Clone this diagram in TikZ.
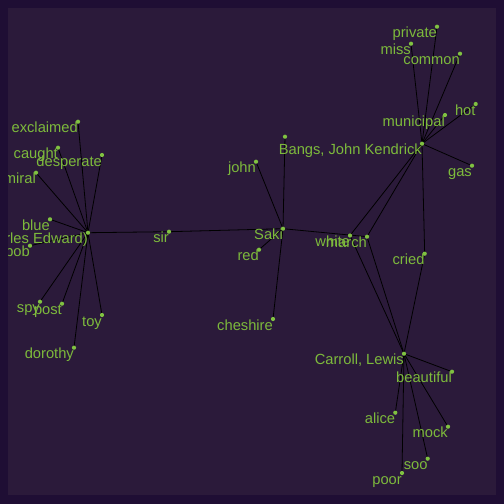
\documentclass[tikz,border=0pt]{standalone}
\usepackage{fontspec}
\setmainfont{Liberation Sans}
\usetikzlibrary{calc}
\definecolor{outerbg}{HTML}{1F0E34}
\definecolor{innerbg}{HTML}{2B1A3A}
\definecolor{dotgreen}{HTML}{80C241}
\definecolor{txtgreen}{HTML}{7DBA3C}
\pgfdeclarelayer{bglayer}
\pgfdeclarelayer{edgelayer}
\pgfsetlayers{bglayer,edgelayer,main}
\tikzset{
  dotnode/.style={circle,fill=dotgreen,inner sep=0pt,minimum size=4.2pt},
  lbl/.style={anchor=base east,inner sep=0pt,text=txtgreen,font=\fontsize{14.7}{17}\selectfont},
  edgeline/.style={draw=black,line width=0.8pt}
}
\newcommand{\gnode}[4]{%
  \node[dotnode] (#1) at (#2,#3) {};
  \node[lbl] (#1-l) at (#2,#3+11) {#4};
}
\begin{document}
\begin{tikzpicture}[x=1pt,y=-1pt]
\useasboundingbox (0,0) rectangle (504,504);
\begin{pgfonlayer}{bglayer}
  \fill[outerbg] (0,0) rectangle (504,504);
  \fill[innerbg] (8,8) rectangle (496,495);
\end{pgfonlayer}
\begin{scope}
\clip (8,8) rectangle (496,495);
% left cluster
\gnode{exclaimed}{78}{121.7}{exclaimed}
\gnode{caught}{58}{147.7}{caught}
\gnode{desperate}{102}{155}{desperate}
\gnode{admiral}{36}{172.7}{miral}
\gnode{blue}{50}{219.3}{blue}
\gnode{charles}{88}{232.7}{rles Edward)}
\gnode{bob}{30}{245.7}{bob}
\gnode{spy}{40}{301.7}{spy}
\gnode{post}{62}{303.7}{post}
\gnode{toy}{102}{315}{toy}
\gnode{dorothy}{74}{347.7}{dorothy}
\gnode{sir}{169}{231.7}{sir}
% Saki cluster
\node[dotnode] (top) at (285,136.7) {};
\gnode{john}{256}{161.7}{john}
\gnode{saki}{283}{228.7}{Saki}
\gnode{red}{259}{249.7}{red}
\gnode{cheshire}{273}{319}{cheshire}
\gnode{white}{350}{235.5}{white}
\gnode{march}{367}{236.7}{march}
% Bangs cluster
\gnode{private}{437}{26.7}{private}
\gnode{miss}{411}{43.7}{miss}
\gnode{common}{460}{53.7}{common}
\gnode{hot}{475.7}{104}{hot}
\gnode{municipal}{445}{115}{municipal}
\gnode{bangs}{422}{143.7}{Bangs, John Kendrick}
\gnode{gas}{472}{165.7}{gas}
\gnode{cried}{424.7}{253.7}{cried}
% Carroll cluster
\gnode{carroll}{404}{353.7}{Carroll, Lewis}
\gnode{beautiful}{452}{371.7}{beautiful}
\gnode{alice}{395.3}{412.7}{alice}
\gnode{mock}{448}{426.7}{mock}
\gnode{soo}{427.7}{458.7}{soo}
\gnode{poor}{402}{473}{poor}
\end{scope}
\begin{pgfonlayer}{edgelayer}
  \foreach \n in {exclaimed,caught,desperate,admiral,blue,bob,spy,post,toy,dorothy,sir}
    \draw[edgeline] (charles.center) -- (\n.center);
  \draw[edgeline] (sir.center) -- (saki.center);
  \foreach \n in {top,john,red,cheshire,march}
    \draw[edgeline] (saki.center) -- (\n.center);
  \foreach \n in {private,miss,common,hot,municipal,gas,white,march,cried}
    \draw[edgeline] (bangs.center) -- (\n.center);
  \foreach \n in {beautiful,alice,mock,soo,poor,white,march,cried}
    \draw[edgeline] (carroll.center) -- (\n.center);
\end{pgfonlayer}
\end{tikzpicture}
\end{document}
